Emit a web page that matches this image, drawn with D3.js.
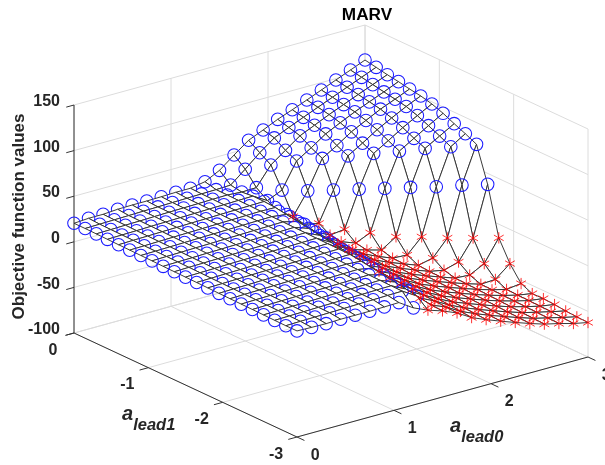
<!DOCTYPE html>
<html><head><meta charset="utf-8">
<script src="https://cdn.jsdelivr.net/npm/d3@7/dist/d3.min.js"></script>
<style>html,body{margin:0;background:#fff;overflow:hidden}svg{display:block;filter:blur(.35px)}text{font-family:"Liberation Sans",Arial,sans-serif;font-weight:bold;fill:#262626}</style>
</head><body><svg id="c" width="605" height="465"></svg>
<script>
const title="MARV";
const zLabel="Objective function values";
const a0Ticks=[0,1,2,3];
const a1Ticks=[0,-1,-2,-3];
const zTicks=[-100,-50,0,50,100,150];
const a0Values=[0,.15,.3,.45,.6,.75,.9,1.05,1.2,1.35,1.5,1.65,1.8,1.95,2.1,2.25,2.4,2.55,2.7,2.85,3];
const a1Values=[0,-.15,-.3,-.45,-.6,-.75,-.9,-1.05,-1.2,-1.35,-1.5,-1.65,-1.8,-1.95,-2.1,-2.25,-2.4,-2.55,-2.7,-2.85,-3];
// objective value (+100 offset removed at draw time): one row per a_lead1, one column per a_lead0
const zRows=[
[120.3,121.4,121.4,122.5,122.8,122.8,123.1,123.6,123.6,126.4,134.5,146.9,158.7,165.6,172.9,179,185.3,191.9,198.5,205,211.6],
[120.3,120.6,121,121.3,121.7,122,122.4,122.7,123.1,123.4,124,137,150.7,162.6,169.6,176.4,183,189.6,196.2,202.7,209.3],
[120.1,120.4,120.8,121.1,121.5,121.9,122.2,122.5,122.9,123.2,122,122.5,143,154.7,166.2,173.4,180.7,187.3,193.9,200.4,206.9],
[119.8,120.2,120.5,120.9,121.2,121.6,121.9,122.3,122.6,123,123.3,114,121.2,148.7,158.7,169.6,177.4,185,191.6,198.1,205],
[119.6,120,120.3,120.7,121,121.4,121.7,122.1,122.4,122.8,123.1,108,98,121.7,152.8,162.5,173.2,181.3,189.3,195.8,202.6],
[119.4,119.7,120.1,120.4,120.8,121.1,121.5,121.8,122.2,122.5,122.2,107.8,95,91.7,123.8,157,166.5,176.8,185.3,193.5,200.7],
[119.2,119.5,119.9,120.2,120.6,120.9,121.3,121.6,122,122.3,120.3,105.9,92.3,84.5,86.4,126.2,161,170.5,180.4,189.2,197.6],
[119,119.4,119.7,120.1,120.4,120.8,121.1,121.5,121.8,122.2,118.3,104,91.5,82.9,77.1,84,128.3,164.8,174.4,183.9,193.1],
[118.7,119.1,119.4,119.8,120.1,120.5,120.8,121.2,121.5,121.9,116.4,102,90.7,80,75.1,70.7,80.9,130.7,169.1,178.2,187.4],
[118.5,118.9,119.2,119.6,119.9,120.3,120.6,121,121.3,121.7,114.4,100,90,81,73.8,67.6,66.6,82.2,132.7,172.2,182.1],
[118.3,118.7,119,119.4,119.7,120.1,120.4,120.8,121.1,121.4,112.5,98.1,89,80,73,67,61,64.6,82.2,135.9,176.2],
[118.1,118.4,118.8,119.1,119.5,119.8,120.2,120.5,120.9,121.2,110.6,96.2,88.4,79,72.2,66,60,57,61.6,83.5,138],
[117.9,118.2,118.6,118.9,119.3,119.6,120,120.3,120.7,121,108.6,94.2,87.4,78,71.4,65.3,59.6,54,53,61.1,85],
[117.6,118,118.3,118.7,119,119.4,119.7,120.1,120.4,120.8,106.7,93.4,86.3,77.2,70.7,64.7,59,53.5,48.6,49.5,62.5],
[117.4,117.8,118.1,118.5,118.8,119.2,119.5,119.9,120.2,119.1,104.7,92.5,85.1,76.5,70,64,58.4,53,48.2,44.3,46.3],
[117.2,117.6,117.9,118.3,118.6,119,119.3,119.7,120,117.2,102.8,91.8,84,75.7,69.2,63.3,57.6,52.3,47.7,43.7,41],
[117,117.3,117.7,118,118.4,118.7,119.1,119.4,119.8,115.3,100.9,91,83,74.9,68.5,62.7,57,51.8,47.3,43.4,41.2],
[116.8,117.1,117.5,117.8,118.2,118.5,118.9,119.2,119.6,113.3,98.9,90.2,81.7,74,67.8,62,56.3,51.1,46.8,43,40.4],
[116.5,116.9,117.2,117.6,117.9,118.3,118.6,119,119.3,111.4,97,89.4,80.6,73.3,67,61.2,55.6,50.4,46.4,42.6,39.1],
[116.3,116.7,117,117.4,117.7,118.1,118.4,118.8,119.1,109.4,95,88.6,79.4,72.5,66.3,60.5,55,49.8,45.9,42,38.3],
[116.3,115.8,115.5,116,116,116,116.3,116.7,106.5,99.6,94.4,87.8,78.3,71.7,65.6,59.8,54.3,49.2,45.5,41.1,37.8]
];
const zOffset=100;
// first a_lead0 index that is drawn as a star in each row (99 = none)
const starFirst=[99,99,99,99,12,13,13,13,12,12,12,12,12,11,11,11,11,11,10,10,9];
// last a_lead0 index drawn as a star in each row
const starLast=[-1,-1,-1,-1,12,13,14,15,16,17,18,19,20,20,20,20,20,20,20,20,20];

const svg=d3.select("#c");
const xA0=d3.scaleLinear().domain([0,3]).range([0,291]);
const yA0=d3.scaleLinear().domain([0,3]).range([0,-80]);
const xA1=d3.scaleLinear().domain([0,-3]).range([0,223]);
const yA1=d3.scaleLinear().domain([0,-3]).range([0,104]);
const yZ=d3.scaleLinear().domain([-100,150]).range([0,-228]);
const X0=74,Y0=333;
const P=(a0,a1,z)=>[X0+xA0(a0)+xA1(a1),Y0+yA0(a0)+yA1(a1)+yZ(z)];
const line=d3.line();
const GRID="#dcdcdc",AX="#333333";

// walls and floor grid
const g=svg.append("g");
const seg=(sel,a,b,c=GRID,w=1)=>sel.append("path").attr("d",line([a,b])).attr("stroke",c).attr("stroke-width",w).attr("fill","none");
const a0End=3,a1End=-3,zMin=-100,zMax=150;
zTicks.forEach(z=>{seg(g,P(0,0,z),P(a0End,0,z));seg(g,P(a0End,0,z),P(a0End,a1End,z));});
a0Ticks.forEach(a=>{seg(g,P(a,0,zMin),P(a,0,zMax));seg(g,P(a,0,zMin),P(a,a1End,zMin));});
a1Ticks.forEach(a=>{seg(g,P(a0End,a,zMin),P(a0End,a,zMax));seg(g,P(0,a,zMin),P(a0End,a,zMin));});

// axes
const ax=svg.append("g");
seg(ax,P(0,0,zMin),P(0,0,zMax),AX,1);
seg(ax,P(0,0,zMin),P(0,a1End,zMin),AX,1);
seg(ax,P(0,a1End,zMin),P(a0End,a1End,zMin),AX,1);
zTicks.forEach(z=>seg(ax,P(0,0,z),P(-.08,0,z),AX,1));
a1Ticks.forEach(a=>seg(ax,P(0,a,zMin),P(-.09,a,zMin),AX,1));
a0Ticks.forEach(a=>seg(ax,P(a,a1End,zMin),P(a,a1End-.1,zMin),AX,1));

// surface painted back to front
const surf=svg.append("g"), over=svg.append("g");
const vtx=(i,j)=>P(a0Values[i],a1Values[j],zRows[j][i]-zOffset);
const isStar=(i,j)=>i>=starFirst[j]&&i<=starLast[j];
const circle=(sel,p)=>sel.append("circle").attr("cx",p[0]).attr("cy",p[1]).attr("r",6.3).attr("fill","none").attr("stroke","#1c1cff").attr("stroke-width",1.05);
const star=d3.symbol().type(d3.symbolAsterisk).size(90);
const starMark=(sel,p)=>{sel.append("path").attr("d",star()).attr("transform",`translate(${p[0]},${p[1]})`).attr("fill","none").attr("stroke","#ff0000").attr("stroke-opacity",.85).attr("stroke-width",.95);};
const n=a0Values.length,m=a1Values.length;
for(let i=n-1;i>=0;i--){
 for(let j=0;j<m;j++){
  if(i<n-1&&j<m-1){
   surf.append("path").attr("d",line([vtx(i,j),vtx(i+1,j),vtx(i+1,j+1),vtx(i,j+1)])+"Z")
    .attr("fill","#fff").attr("stroke","#303030").attr("stroke-width",.95);
  }
  if(!isStar(i,j)&&i-j<9) circle(surf,vtx(i,j));
 }
}
for(let i=0;i<n;i++)for(let j=0;j<m;j++){
 const p=vtx(i,j);
 if(isStar(i,j)) starMark(over,p);
 else if(i-j>=9) circle(over,p);
}

// text
const T=(x,y,s,size,anchor="middle")=>svg.append("text").attr("x",x).attr("y",y).attr("font-size",size).attr("text-anchor",anchor).text(s);
T(367,20,title,17.2).style("fill","#000");
zTicks.forEach(z=>{const p=P(0,0,z);T(p[0]-14,p[1]+1.2,String(z),16,"end");});
a1Ticks.forEach(a=>{const p=P(0,a,zMin);T(p[0]-21,p[1]+21.5,String(a),16);});
a0Ticks.forEach(a=>{const p=P(a,a1End,zMin);T(p[0]+18.2,p[1]+22.5,String(a),16);});
svg.append("text").attr("transform","translate(24,216.5) rotate(-90)").attr("font-size",17).attr("text-anchor","middle").text(zLabel);
const lab=(x,y,s)=>{const t=svg.append("text").attr("x",x).attr("y",y).attr("font-style","italic").attr("font-size",20);
 t.append("tspan").text("a");t.append("tspan").attr("dy",10).attr("font-size",16.5).text(s);};
lab(122,420,"lead1");lab(450,432,"lead0");
</script></body></html>
